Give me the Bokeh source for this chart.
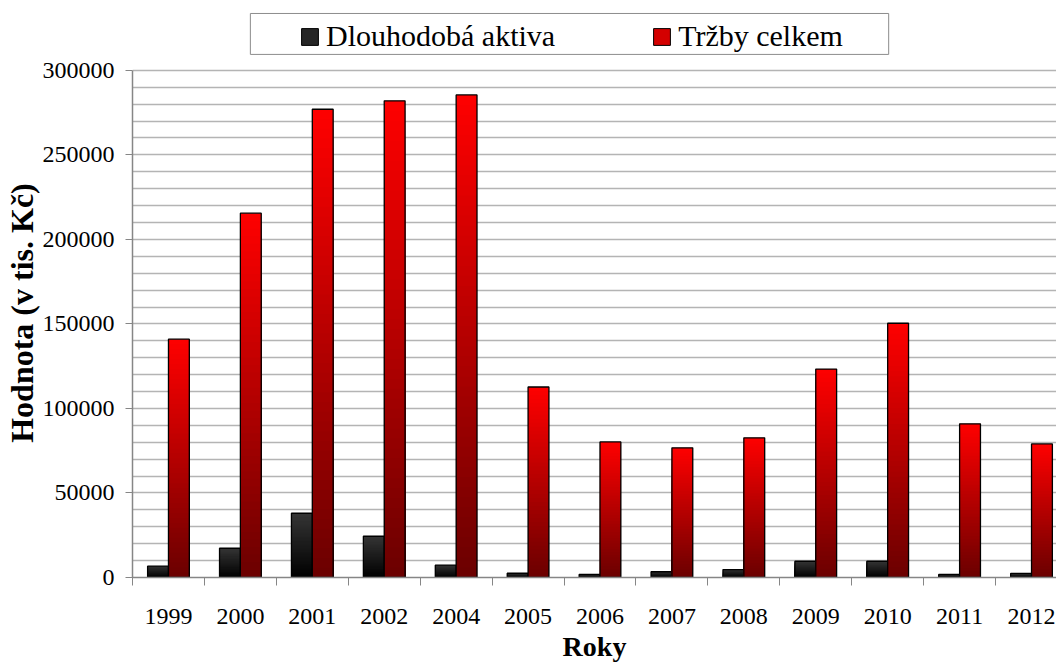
import numpy as np
from bokeh.plotting import figure
from bokeh.models import (Range1d, FixedTicker, NumeralTickFormatter, Legend, LegendItem,
                          ColumnDataSource, BoxAnnotation)
from bokeh.embed import file_html
from bokeh.resources import INLINE

# ---- data ----
years = ["1999", "2000", "2001", "2002", "2004", "2005", "2006",
         "2007", "2008", "2009", "2010", "2011", "2012"]
dlouhodoba_aktiva = [6700, 17300, 38000, 24400, 7300, 2500, 1800,
                     3400, 4700, 9600, 9600, 1800, 2400]
trzby_celkem = [141000, 215500, 277000, 282000, 285500, 112700, 80200,
                76700, 82600, 123300, 150400, 90900, 79000]
series_names = ["Dlouhodobá aktiva", "Tržby celkem"]
y_ticks = [0, 50000, 100000, 150000, 200000, 250000, 300000]

FONT = "Liberation Serif"
BAR_W = 0.29
N_SEG = 48

# layout (pixels)
FRAME_L, FRAME_B = 131, 578
PX_PER_CAT = 72.0
Y_MAX = 300000
Y_END = Y_MAX * FRAME_B / 508          # frame extends 70 px above the 300000 line
X_END = (1056 - FRAME_L) / PX_PER_CAT


def px_to_x(px):
    return (px - FRAME_L) / PX_PER_CAT


def px_to_y(py):
    return (FRAME_B - py) / FRAME_B * Y_END


p = figure(width=1056, height=664, output_backend="svg", toolbar_location=None,
           x_range=Range1d(0, X_END), y_range=Range1d(0, Y_END),
           min_border_left=FRAME_L, min_border_right=0, min_border_top=0,
           min_border_bottom=664 - FRAME_B)
p.outline_line_color = None
p.background_fill_color = "white"
p.border_fill_color = "white"

idx = np.arange(len(years))
centers = idx + 0.5


def hex2rgb(h):
    h = h.lstrip("#")
    return [int(h[i:i + 2], 16) for i in (0, 2, 4)]


def mix(c_bottom, c_top, t):
    a, b = hex2rgb(c_bottom), hex2rgb(c_top)
    return "#%02x%02x%02x" % tuple(int(round(a[i] + (b[i] - a[i]) * t)) for i in range(3))


def gradient_bars(xs, vals, c_bottom, c_top):
    gx, gtop, gcol = [], [], []
    for k in range(N_SEG, 0, -1):
        t = (k - 0.5) / N_SEG
        col = mix(c_bottom, c_top, t)
        for x, v in zip(xs, vals):
            gx.append(x)
            gtop.append(v * k / N_SEG)
            gcol.append(col)
    src = ColumnDataSource(dict(x=gx, top=gtop, c=gcol))
    p.vbar(x="x", top="top", bottom=0, width=BAR_W, fill_color="c", line_color=None, source=src)
    p.vbar(x=list(xs), top=list(vals), bottom=0, width=BAR_W, fill_alpha=0,
           line_color="black", line_width=1.3)


# grid (every 10000)
p.xgrid.visible = False
p.ygrid.ticker = FixedTicker(ticks=list(range(0, Y_MAX + 1, 10000)))
p.ygrid.grid_line_color = "#b4b4b4"
p.ygrid.grid_line_width = 1.6

gradient_bars(centers - BAR_W / 2, dlouhodoba_aktiva, "#000000", "#353535")
gradient_bars(centers + BAR_W / 2, trzby_celkem, "#6a0000", "#ff0000")

# legend frame
p.add_layout(BoxAnnotation(left=px_to_x(249), right=px_to_x(888),
                           top=px_to_y(13), bottom=px_to_y(54),
                           fill_color="white", fill_alpha=1,
                           line_color="#8c8c8c", line_width=1, line_alpha=1))

# legend swatches (off-screen dummy bars, used only for the legend glyphs)
r1 = p.vbar(x=[-1], top=[0], width=BAR_W, fill_color="#262626", line_color="black")
r2 = p.vbar(x=[-1], top=[0], width=BAR_W, fill_color="#d40000", line_color="black")
legend = Legend(items=[LegendItem(label=series_names[0], renderers=[r1]),
                       LegendItem(label=series_names[1], renderers=[r2])],
                location=(167, 524), orientation="horizontal",
                label_text_font=FONT, label_text_font_size="30px", label_text_color="black",
                glyph_width=21, glyph_height=21, label_standoff=6,
                spacing=96, padding=0, margin=0,
                border_line_color=None, background_fill_alpha=0)
p.add_layout(legend, "center")

# y axis
ya = p.yaxis[0]
ya.bounds = (0, Y_MAX)
ya.ticker = FixedTicker(ticks=y_ticks)
ya.formatter = NumeralTickFormatter(format="0")
ya.major_label_text_font = FONT
ya.major_label_text_font_size = "24px"
ya.major_label_text_color = "black"
ya.major_tick_out = 7
ya.major_tick_in = 0
ya.minor_tick_out = 0
ya.minor_tick_in = 0
ya.major_label_standoff = 11
ya.axis_line_color = "#868686"
ya.major_tick_line_color = "#868686"
ya.axis_line_width = 1.5
ya.axis_label = "Hodnota (v tis. Kč)" + "\u00a0" * 6
ya.axis_label_text_font = FONT
ya.axis_label_text_font_style = "bold"
ya.axis_label_text_font_size = "32px"
ya.axis_label_text_color = "black"
ya.axis_label_standoff = 0

# x axis
xa = p.xaxis[0]
xa.ticker = FixedTicker(ticks=list(centers), minor_ticks=list(range(0, len(years) + 1)))
xa.major_label_overrides = {float(c): y for c, y in zip(centers, years)}
xa.major_label_text_font = FONT
xa.major_label_text_font_size = "24px"
xa.major_label_text_color = "black"
xa.major_tick_out = 0
xa.major_tick_in = 0
xa.minor_tick_out = 8
xa.minor_tick_in = 0
xa.major_label_standoff = 23
xa.axis_line_color = "#868686"
xa.minor_tick_line_color = "#868686"
xa.axis_line_width = 1.5
xa.axis_label = "Roky"
xa.axis_label_text_font = FONT
xa.axis_label_text_font_style = "bold"
xa.axis_label_text_font_size = "28px"
xa.axis_label_text_color = "black"
xa.axis_label_standoff = 4

open("out.html", "w").write(file_html(p, INLINE))
